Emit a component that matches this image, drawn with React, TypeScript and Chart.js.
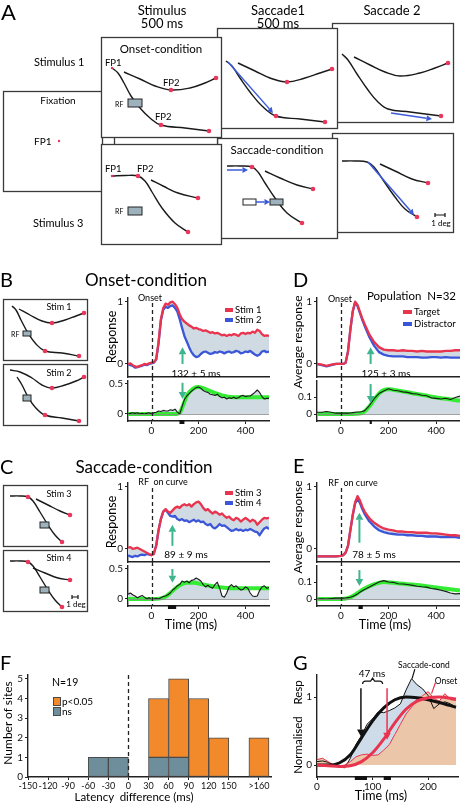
import React, { useEffect, useMemo, useRef } from "react";
import { Chart, registerables } from "chart.js";

Chart.register(...registerables);

const FONT = 'Lato, "Noto Sans", "DejaVu Sans", sans-serif';
Chart.defaults.font.family = FONT;
Chart.defaults.color = "#111";

// ================= DATA =================
// time base (ms) for single-site traces (B, C)
const tSite = [-100, -90, -80, -70, -60, -50, -40, -30, -20, -10, 0, 10, 20, 30, 40, 50, 60, 70, 80, 90, 100, 110, 120, 130, 140, 150, 160, 170, 180, 190, 200, 210, 220, 230, 240, 250, 260, 270, 280, 290, 300, 310, 320, 330, 340, 350, 360, 370, 380, 390, 400, 410, 420, 430, 440, 450, 460, 470, 480, 490, 500];

// Panel B — onset condition, one site
const bStim1 = [0.0, 0.01, -0.02, -0.04, -0.05, -0.03, -0.02, 0.0, -0.01, 0.01,
  0.02, 0.03, 0.08, 0.35, 0.72, 0.9, 0.97, 0.95, 0.99, 1.0,
  0.96, 0.9, 0.8, 0.72, 0.68, 0.65, 0.62, 0.6, 0.57, 0.58,
  0.56, 0.55, 0.53, 0.54, 0.52, 0.5, 0.51, 0.49, 0.5, 0.48,
  0.46, 0.47, 0.45, 0.47, 0.46, 0.48, 0.47, 0.45, 0.49, 0.5,
  0.48, 0.5, 0.49, 0.52, 0.5, 0.55, 0.53, 0.48, 0.45, 0.46,
  0.45];
const bStim2 = [0.0, -0.02, -0.03, -0.06, -0.05, -0.04, -0.03, -0.01, -0.02, 0.0,
  0.01, 0.02, 0.07, 0.33, 0.7, 0.87, 0.92, 0.9, 0.93, 0.94,
  0.9, 0.84, 0.72, 0.58, 0.45, 0.36, 0.27, 0.19, 0.14, 0.11,
  0.12, 0.16, 0.19, 0.2, 0.18, 0.16, 0.17, 0.19, 0.18, 0.2,
  0.19, 0.17, 0.19, 0.2, 0.18, 0.19, 0.21, 0.2, 0.17, 0.18,
  0.2, 0.19, 0.21, 0.18, 0.15, 0.13, 0.15, 0.2, 0.21, 0.19,
  0.2];
const bDiff = [0.0, 0.01, 0.02, 0.01, 0.02, 0.0, 0.01, 0.0, 0.01, 0.02,
  0.0, 0.02, 0.03, 0.05, 0.04, 0.06, 0.05, 0.05, 0.07, 0.06,
  0.08, 0.03, 0.0, 0.12, 0.24, 0.3, 0.34, 0.38, 0.41, 0.44,
  0.45, 0.43, 0.39, 0.37, 0.36, 0.33, 0.32, 0.31, 0.33, 0.29,
  0.27, 0.28, 0.25, 0.27, 0.26, 0.28, 0.26, 0.27, 0.3, 0.31,
  0.29, 0.3, 0.3, 0.33, 0.36, 0.4, 0.36, 0.29, 0.25, 0.26,
  0.26];
const bFitT = [-100, -50, 0, 50, 100, 110, 120, 130, 140, 150, 160, 180, 200, 220, 250, 300, 350, 400, 450, 500];
const bFit = [0, 0, 0, 0, 0, 0.005, 0.02, 0.1, 0.2, 0.3, 0.36, 0.43, 0.45, 0.43, 0.38, 0.31, 0.28, 0.28, 0.28, 0.28];

// Panel C — saccade condition, one site
const cStim3 = [0.02, 0.03, 0.0, 0.01, 0.02, 0.0, -0.02, -0.04, -0.06, -0.08,
  -0.1, -0.08, 0.05, 0.3, 0.48, 0.6, 0.64, 0.6, 0.58, 0.62,
  0.66, 0.68, 0.66, 0.7, 0.72, 0.7, 0.72, 0.68, 0.72, 0.75,
  0.76, 0.72, 0.66, 0.62, 0.64, 0.6, 0.57, 0.6, 0.58, 0.55,
  0.57, 0.53, 0.5, 0.52, 0.48, 0.46, 0.5, 0.48, 0.44, 0.47,
  0.5, 0.47, 0.44, 0.47, 0.45, 0.39, 0.43, 0.47, 0.5, 0.49,
  0.5];
const cStim4 = [-0.1, -0.12, -0.13, -0.11, -0.12, -0.1, -0.09, -0.1, -0.08, -0.09,
  -0.1, -0.07, 0.06, 0.3, 0.48, 0.6, 0.63, 0.58, 0.53, 0.52,
  0.53, 0.48, 0.46, 0.48, 0.45, 0.46, 0.43, 0.45, 0.47, 0.44,
  0.46, 0.43, 0.44, 0.4, 0.38, 0.4, 0.35, 0.33, 0.36, 0.4,
  0.37, 0.38, 0.35, 0.32, 0.29, 0.3, 0.32, 0.3, 0.31, 0.29,
  0.31, 0.3, 0.32, 0.3, 0.28, 0.27, 0.22, 0.28, 0.33, 0.35,
  0.32];
const cDiff = [0.08, 0.1, 0.07, 0.05, 0.02, 0.04, 0.06, 0.03, 0.0, 0.02,
  -0.01, 0.0, 0.01, 0.0, 0.02, 0.04, 0.05, 0.07, 0.1, 0.15,
  0.18, 0.22, 0.24, 0.3, 0.28, 0.3, 0.27, 0.31, 0.32, 0.35,
  0.33, 0.3, 0.24, 0.2, 0.23, 0.2, 0.18, 0.24, 0.28, 0.18,
  0.05, 0.03, 0.1, 0.2, 0.24, 0.2, 0.22, 0.18, 0.15, 0.16,
  0.2, 0.18, 0.1, 0.05, 0.04, 0.05, 0.14, 0.2, 0.22, 0.18,
  0.19];
const cFitT = [-100, 0, 40, 60, 80, 100, 120, 150, 180, 220, 280, 350, 420, 500];
const cFit = [0, 0, 0.01, 0.04, 0.1, 0.17, 0.23, 0.27, 0.27, 0.24, 0.2, 0.18, 0.18, 0.18];

// time base (ms) for population averages (D, E)
const tPop = [-100, -80, -60, -40, -20, 0, 10, 20, 30, 40, 50, 60, 70, 80, 90, 100, 120, 140, 160, 180, 200, 220, 240, 260, 280, 300, 320, 340, 360, 380, 400, 420, 440, 460, 480, 500];

// Panel D — population, onset condition
const dTarget = [0.0, -0.01, -0.03, -0.01, 0.0, 0.0,
  0.0, 0.02, 0.2, 0.55, 0.85, 1.0, 0.95, 0.84, 0.73, 0.64,
  0.47, 0.35, 0.27, 0.23, 0.22, 0.22, 0.21, 0.22, 0.21, 0.21, 0.2, 0.21, 0.2, 0.2, 0.2, 0.2, 0.21, 0.21, 0.22, 0.22];
const dDistractor = [0.0, -0.02, -0.04, -0.02, 0.0, 0.0,
  0.0, 0.02, 0.2, 0.55, 0.84, 0.99, 0.93, 0.82, 0.71, 0.61,
  0.43, 0.29, 0.19, 0.15, 0.13, 0.12, 0.12, 0.12, 0.11, 0.11, 0.11, 0.1, 0.1, 0.11, 0.11, 0.1, 0.11, 0.1, 0.1, 0.1];
const dDiff = [0.01, 0.01, 0.015, 0.01, 0.005, 0.005,
  0.005, 0.005, 0.005, 0.006, 0.008, 0.01, 0.012, 0.012, 0.015, 0.02,
  0.05, 0.09, 0.12, 0.135, 0.148, 0.14, 0.137, 0.13, 0.127, 0.12, 0.118, 0.11, 0.107, 0.095, 0.092, 0.088, 0.093, 0.085, 0.097, 0.105];
const dFitT = [-100, 0, 80, 100, 120, 140, 160, 180, 200, 250, 300, 350, 400, 450, 500];
const dFit = [0, 0, 0.003, 0.015, 0.045, 0.085, 0.12, 0.14, 0.145, 0.135, 0.122, 0.11, 0.097, 0.088, 0.078];

// Panel E — population, saccade condition
const eTarget = [-0.12, -0.12, -0.12, -0.12, -0.12, -0.11,
  -0.1, -0.06, 0.05, 0.3, 0.55, 0.75, 0.85, 0.78, 0.68, 0.6,
  0.49, 0.42, 0.37, 0.33, 0.31, 0.3, 0.28, 0.28, 0.27, 0.27, 0.26, 0.26, 0.26, 0.25, 0.25, 0.24, 0.23, 0.22, 0.22, 0.21];
const eDistractor = [-0.12, -0.12, -0.12, -0.12, -0.12, -0.11,
  -0.1, -0.06, 0.05, 0.3, 0.54, 0.73, 0.81, 0.74, 0.64, 0.56,
  0.44, 0.36, 0.3, 0.27, 0.25, 0.24, 0.23, 0.23, 0.22, 0.22, 0.21, 0.21, 0.2, 0.2, 0.2, 0.19, 0.19, 0.19, 0.19, 0.18];
const eDiff = [0.0, 0.002, 0.0, 0.003, 0.005, 0.005,
  0.005, 0.006, 0.008, 0.01, 0.015, 0.022, 0.03, 0.04, 0.048, 0.056,
  0.07, 0.085, 0.1, 0.108, 0.1, 0.098, 0.09, 0.088, 0.085, 0.08, 0.075, 0.072, 0.07, 0.062, 0.058, 0.052, 0.045, 0.035, 0.03, 0.032];
const eFitT = [-100, 0, 30, 60, 80, 100, 130, 160, 180, 220, 300, 400, 500];
const eFit = [0, 0, 0.005, 0.025, 0.045, 0.062, 0.082, 0.095, 0.1, 0.095, 0.085, 0.068, 0.05];

// Panel F — latency differences histogram
const fBinCenters = [-45, -15, 45, 75, 105, 135, 195];
const fNsCounts = [1, 1, 1, 1, null, null, null];
const fSigCounts = [null, null, 3, 4, 4, 2, 2];
const fTicks = [-150, -120, -90, -60, -30, 0, 30, 60, 90, 120, 150, 195];

// Panel G — normalised responses of one site
const tG = [0, 10, 20, 30, 40, 50, 60, 70, 80, 90, 100, 110, 120, 130, 140, 150, 160, 170, 180, 190, 200, 210, 220, 230, 240, 250];
const gSaccade = [0.05, 0.06, 0.04, 0.0, -0.03, -0.04, 0.1, 0.3, 0.43, 0.6, 0.68, 0.78, 0.77, 0.8, 0.84, 0.9, 1.1, 1.27, 1.18, 1.12, 1.02, 0.83, 0.9, 0.93, 0.9, 0.85];
const gOnset = [0.08, 0.1, 0.05, 0.0, -0.02, 0.0, 0.05, 0.12, 0.15, 0.16, 0.14, 0.15, 0.22, 0.3, 0.45, 0.6, 0.75, 0.85, 0.97, 1.02, 1.08, 0.98, 0.94, 1.05, 0.96, 0.95];
const gFitT = [0, 20, 40, 60, 80, 100, 120, 140, 160, 180, 200, 220, 250];
const gSaccadeFit = [0, 0, 0.03, 0.15, 0.4, 0.65, 0.84, 0.96, 1.0, 0.99, 0.96, 0.92, 0.85];
const gOnsetFit = [0, -0.01, -0.02, -0.01, 0.05, 0.18, 0.38, 0.62, 0.82, 0.94, 0.99, 1.0, 0.97];

// latencies (ms)
const latB = 132, latC = 89, latD = 125, latE = 78, latGsac = 79, latGons = 126;

// Schematic stimuli (panel A and thumbnails), in figure units
const schemCurves: number[][][] = [
  [[124, 72], [140, 79], [155, 86], [171, 90], [190, 88], [205, 83], [216, 78]],
  [[112, 68], [118, 73], [124, 83], [131, 96], [140, 108], [150, 118], [161, 125], [185, 128], [209, 131]],
  [[238, 63], [255, 71], [270, 78], [287, 82], [305, 78], [320, 73], [332, 69]],
  [[226, 61], [232, 66], [240, 78], [250, 92], [262, 106], [276, 116], [300, 119], [325, 122]],
  [[354, 57], [370, 65], [385, 72], [400, 76], [420, 73], [435, 68], [448, 63]],
  [[342, 54], [348, 60], [357, 74], [368, 90], [378, 102], [388, 109], [410, 112], [441, 116]],
  [[112, 176], [125, 175.5], [138, 176], [145, 181], [152, 192], [162, 208], [175, 223], [188, 232]],
  [[151, 180], [163, 186], [178, 193], [198, 198]],
  [[227, 166], [240, 166], [252, 167], [258, 172], [265, 183], [275, 198], [287, 213], [302, 223]],
  [[265, 171], [280, 178], [297, 185], [313, 189]],
  [[342, 161], [355, 161], [367, 162], [374, 167], [383, 180], [395, 197], [405, 209], [417, 217]],
  [[380, 164], [395, 171], [412, 179], [428, 183]],
  [[19, 309], [30, 315], [42, 321], [52, 323], [65, 320], [76, 316], [84, 313]],
  [[12, 306], [16, 310], [21, 320], [28, 333], [36, 344], [45, 351], [62, 353], [79, 356]],
  [[10, 370], [20, 372], [32, 378], [42, 385], [52, 388], [65, 385], [76, 381], [84, 377]],
  [[17, 377], [22, 385], [28, 397], [35, 407], [45, 415], [62, 418], [79, 421]],
  [[10, 496], [20, 496], [28, 497], [33, 501], [40, 512], [48, 525], [55, 535], [62, 542]],
  [[36, 499], [48, 505], [60, 511], [70, 515]],
  [[10, 561], [20, 561], [28, 562], [33, 566], [40, 577], [48, 590], [55, 600], [62, 607]],
  [[33, 568], [45, 573], [58, 578], [70, 580]],
];
const schemDots = [[171, 90], [216, 78], [161, 125], [209, 131], [287, 82], [332, 69], [276, 116], [325, 122],
  [448, 63], [441, 116], [138, 176], [188, 232], [198, 198], [252, 167], [302, 223], [313, 189], [417, 217], [428, 183],
  [52, 323], [84, 313], [45, 351], [79, 356], [52, 388], [84, 377], [45, 415], [79, 421],
  [28, 497], [62, 542], [70, 515], [28, 562], [62, 607], [70, 580]];
const schemSmallDots = [[59, 141], [112, 68], [112, 176]];
const schemBoxes = [[332, 23, 453, 122], [332, 133, 453, 232], [217, 28, 337, 128], [217, 138, 337, 238],
  [114, 125, 217, 155], [3, 91, 102, 191], [101, 37, 221, 137], [101, 144, 221, 244],
  [3, 299, 87, 360], [3, 364, 87, 425], [3, 485, 87, 546], [3, 550, 87, 611]];
const schemRF = [[128, 99, 142, 107], [128, 207, 142, 215], [270, 199, 283, 205], [23, 331, 31, 336],
  [23, 395, 31, 401], [40, 522, 49, 528], [40, 587, 49, 593]];
const schemWhiteRF = [[243, 199, 256, 205]];
const schemArrows = [[228, 62, 273, 113], [391, 113, 432, 119], [227, 170, 248, 170], [256, 202, 270, 202], [368, 162, 414, 215]];
const schemScaleBars = [[435, 445, 215], [72, 78, 597]];

// ================= STYLE =================
const RED = "#e8344e";
const BLUE = "#3c56d8";
const GREEN = "#35ec35";
const TEAL = "#3db58e";
const FILL = "#cfdae3";
const ORANGE = "#f28a2c";
const SLATE = "#6f8e9b";
const PEACH = "#ebc6a9";
const BLUEFILL = "#cddce8";
const DOT = "#e8365c";
const RFFILL = "#9db2bc";
const ARROWBLUE = "#3b5bdb";
const INK = "#1a1a1a";

const xy = (xs: number[], ys: (number | null)[]) => xs.map((x, i) => ({ x, y: ys[i] }));

function drawArrow(ctx: CanvasRenderingContext2D, x1: number, y1: number, x2: number, y2: number, color: string, width = 1.6, head = 6) {
  const ang = Math.atan2(y2 - y1, x2 - x1);
  const hw = head * 0.55;
  const bx = x2 - Math.cos(ang) * head;
  const by = y2 - Math.sin(ang) * head;
  ctx.save();
  ctx.strokeStyle = color;
  ctx.fillStyle = color;
  ctx.lineWidth = width;
  ctx.beginPath();
  ctx.moveTo(x1, y1);
  ctx.lineTo(bx, by);
  ctx.stroke();
  ctx.beginPath();
  ctx.moveTo(x2, y2);
  ctx.lineTo(bx + Math.sin(ang) * hw, by - Math.cos(ang) * hw);
  ctx.lineTo(bx - Math.sin(ang) * hw, by + Math.cos(ang) * hw);
  ctx.closePath();
  ctx.fill();
  ctx.restore();
}

type Arrow = { x1: number; y1: number; x2: number; y2: number; color: string; width?: number; head?: number };
type Decor = { vline?: number; vTopExt?: number; vBotExt?: number; zero?: boolean; arrows?: Arrow[]; bars?: number[][]; extra?: (c: any) => void };

function decor(d: Decor) {
  return {
    id: "decor",
    afterDatasetsDraw(chart: any) {
      const { ctx, chartArea: a, scales } = chart;
      const X = scales.x, Y = scales.y;
      if (d.zero) {
        const py = Math.round(Y.getPixelForValue(0)) + 0.5;
        ctx.save();
        ctx.strokeStyle = "#8a8a8a";
        ctx.lineWidth = 0.8;
        ctx.beginPath();
        ctx.moveTo(a.left, py);
        ctx.lineTo(a.right, py);
        ctx.stroke();
        ctx.restore();
      }
      if (d.vline !== undefined) {
        const px = Math.round(X.getPixelForValue(d.vline)) + 0.5;
        ctx.save();
        ctx.setLineDash([4, 3]);
        ctx.strokeStyle = "#222";
        ctx.lineWidth = 1.3;
        ctx.beginPath();
        ctx.moveTo(px, a.top - (d.vTopExt || 0));
        ctx.lineTo(px, a.bottom + (d.vBotExt || 0));
        ctx.stroke();
        ctx.restore();
      }
      (d.arrows || []).forEach((r) =>
        drawArrow(ctx, X.getPixelForValue(r.x1), Y.getPixelForValue(r.y1), X.getPixelForValue(r.x2), Y.getPixelForValue(r.y2), r.color, r.width, r.head)
      );
      (d.bars || []).forEach(([s, e]) => {
        const p1 = X.getPixelForValue(s), p2 = X.getPixelForValue(e);
        ctx.save();
        ctx.fillStyle = "#111";
        ctx.fillRect(p1, a.bottom - 1, p2 - p1, 4);
        ctx.restore();
      });
      if (d.extra) d.extra(chart);
    },
  };
}

type Rect = { L: number; R: number; T: number; B: number };

function buildChart(p: {
  area: Rect; yw: number; xh: number;
  x: number[]; y: number[];
  xTicks: number[]; yTicks: number[]; xShow: boolean;
  datasets: any[]; decor: Decor; type?: string; xFmt?: (v: number) => string; xFont?: number;
}) {
  const pad = 8;
  const rect = {
    left: p.area.L - p.yw - pad,
    top: p.area.T - pad,
    width: p.area.R - p.area.L + p.yw + 2 * pad,
    height: p.area.B - p.area.T + p.xh + 2 * pad,
  };
  const isBar = p.type === "bar";
  const xTickOpts: any = { display: p.xShow, autoSkip: false, maxRotation: 0, padding: 1, color: "#111", font: { size: p.xFont || 10, family: FONT } };
  if (p.xFmt) xTickOpts.callback = p.xFmt;
  const config: any = {
    type: p.type || "line",
    data: { datasets: p.datasets },
    options: {
      responsive: false,
      animation: false,
      events: [],
      layout: { padding: pad, autoPadding: false },
      plugins: { legend: { display: false }, tooltip: { enabled: false }, filler: { drawTime: "beforeDatasetsDraw" } },
      elements: { point: { radius: 0 }, line: { borderJoinStyle: "round" } },
      scales: {
        x: {
          type: "linear", min: p.x[0], max: p.x[1], offset: false, stacked: isBar,
          afterFit: (s: any) => { s.height = p.xh; },
          afterBuildTicks: (s: any) => { s.ticks = p.xTicks.map((v) => ({ value: v })); },
          ticks: xTickOpts,
          grid: { display: p.xShow, drawOnChartArea: false, drawTicks: true, tickLength: 3, color: "#222", offset: false },
          border: { display: true, color: "#222", width: 1.4 },
        },
        y: {
          type: "linear", min: p.y[0], max: p.y[1], stacked: isBar,
          afterFit: (s: any) => { s.width = p.yw; },
          afterBuildTicks: (s: any) => { s.ticks = p.yTicks.map((v) => ({ value: v })); },
          ticks: { autoSkip: false, padding: 2, color: "#111", font: { size: 10, family: FONT } },
          grid: { drawOnChartArea: false, drawTicks: true, tickLength: 3, color: "#222" },
          border: { display: true, color: "#222", width: 1.4 },
        },
      },
    },
    plugins: [decor(p.decor)],
  };
  return { rect, config };
}

function respSets(t: number[], a: number[], b: number[]) {
  return [
    { data: xy(t, a), borderColor: RED, borderWidth: 2.3, pointRadius: 0, fill: false },
    { data: xy(t, b), borderColor: BLUE, borderWidth: 2.3, pointRadius: 0, fill: "-1", backgroundColor: FILL },
  ];
}
function diffSets(t: number[], d: number[], ft: number[], f: number[]) {
  return [
    { data: xy(t, d), borderColor: INK, borderWidth: 1.1, pointRadius: 0, fill: { value: 0 }, backgroundColor: FILL },
    { data: xy(ft, f), borderColor: GREEN, borderWidth: 4, pointRadius: 0, fill: false, cubicInterpolationMode: "monotone" },
  ];
}

const TIME = [-100, 500];
const TT = [0, 200, 400];
const RESP_Y = [-0.21, 1.06];

function siteMain(T: number, a: number[], b: number[], lat: number, y1: number, y2: number) {
  return buildChart({
    area: { L: 128, R: 269, T, B: T + 79 }, yw: 20, xh: 0, x: TIME, y: RESP_Y, xTicks: TT, yTicks: [0, 1], xShow: false,
    datasets: respSets(tSite, a, b),
    decor: { vline: 0, vTopExt: -5, vBotExt: 4, arrows: [{ x1: lat, y1, x2: lat, y2, color: TEAL, width: 2, head: 7 }] },
  });
}
function siteDiff(T: number, d: number[], ft: number[], f: number[], lat: number, bar: number[], y1: number, y2: number) {
  return buildChart({
    area: { L: 128, R: 269, T, B: T + 40 }, yw: 20, xh: 16, x: TIME, y: [-0.117, 0.55], xTicks: TT, yTicks: [0, 0.5], xShow: true,
    datasets: diffSets(tSite, d, ft, f),
    decor: { zero: true, vline: 0, vTopExt: 4, arrows: [{ x1: lat, y1, x2: lat, y2, color: TEAL, width: 2, head: 7 }], bars: [bar] },
  });
}
function popMain(T: number, a: number[], b: number[], lat: number, y1: number, y2: number) {
  return buildChart({
    area: { L: 317, R: 460, T, B: T + 79 }, yw: 20, xh: 0, x: TIME, y: RESP_Y, xTicks: TT, yTicks: [0, 1], xShow: false,
    datasets: respSets(tPop, a, b),
    decor: { vline: 0, vTopExt: -5, vBotExt: 4, arrows: [{ x1: lat, y1, x2: lat, y2, color: TEAL, width: 2, head: 7 }] },
  });
}
function popDiff(T: number, d: number[], ft: number[], f: number[], lat: number, bar: number[], y1: number, y2: number) {
  return buildChart({
    area: { L: 317, R: 460, T, B: T + 40 }, yw: 20, xh: 16, x: TIME, y: [-0.041, 0.194], xTicks: TT, yTicks: [0, 0.1], xShow: true,
    datasets: diffSets(tPop, d, ft, f),
    decor: { zero: true, vline: 0, vTopExt: 4, arrows: [{ x1: lat, y1, x2: lat, y2, color: TEAL, width: 2, head: 7 }], bars: [bar] },
  });
}

function histF() {
  const barStyle = { borderColor: "#4a4a4a", borderWidth: 1, borderSkipped: false, barPercentage: 1, categoryPercentage: 1 };
  return buildChart({
    type: "bar",
    area: { L: 28, R: 271, T: 675, B: 777 }, yw: 12, xh: 14, x: [-150, 213], y: [0, 5.2],
    xTicks: fTicks, yTicks: [0, 1, 2, 3, 4, 5], xShow: true, xFont: 9,
    xFmt: (v: number) => (v === 195 ? ">160" : String(v)),
    datasets: [
      { label: "ns", data: xy(fBinCenters, fNsCounts), backgroundColor: SLATE, ...barStyle },
      { label: "p<0.05", data: xy(fBinCenters, fSigCounts), backgroundColor: ORANGE, ...barStyle },
    ],
    decor: { vline: 0 },
  });
}

function panelG() {
  return buildChart({
    area: { L: 317, R: 458, T: 675, B: 777 }, yw: 14, xh: 16, x: [0, 253.6], y: [-0.176, 1.324],
    xTicks: [0, 100, 200], yTicks: [0, 1], xShow: true,
    datasets: [
      { data: xy(gFitT, gOnsetFit), borderColor: RED, borderWidth: 3, pointRadius: 0, fill: false, cubicInterpolationMode: "monotone" },
      { data: xy(gFitT, gSaccadeFit), borderColor: "#111", borderWidth: 3, pointRadius: 0, fill: false, cubicInterpolationMode: "monotone" },
      { data: xy(tG, gOnset), borderColor: RED, borderWidth: 1, pointRadius: 0, fill: "origin", backgroundColor: PEACH },
      { data: xy(tG, gSaccade), borderColor: "#111", borderWidth: 1, pointRadius: 0, fill: { target: 2, above: BLUEFILL, below: "rgba(0,0,0,0)" } },
    ],
    decor: {
      arrows: [
        { x1: latGsac, y1: 1.13, x2: latGsac, y2: 0.42, color: "#111", width: 1.5, head: 7 },
        { x1: latGons, y1: 1.13, x2: latGons, y2: 0.37, color: RED, width: 1.5, head: 7 },
      ],
      bars: [[68, 90], [120, 133]],
      extra: (chart: any) => {
        const { ctx, scales } = chart;
        const X = scales.x, Y = scales.y;
        const x1 = X.getPixelForValue(82), x2 = X.getPixelForValue(118), yb = Y.getPixelForValue(1.22);
        const xm = (x1 + x2) / 2;
        ctx.save();
        ctx.strokeStyle = "#111";
        ctx.lineWidth = 1.2;
        ctx.beginPath();
        ctx.moveTo(x1, yb + 2);
        ctx.quadraticCurveTo(x1, yb - 1, x1 + 3, yb - 1);
        ctx.lineTo(xm - 2, yb - 1);
        ctx.lineTo(xm, yb - 4);
        ctx.lineTo(xm + 2, yb - 1);
        ctx.lineTo(x2 - 3, yb - 1);
        ctx.quadraticCurveTo(x2, yb - 1, x2, yb + 2);
        ctx.stroke();
        ctx.beginPath();
        ctx.moveTo(X.getPixelForValue(171), Y.getPixelForValue(1.27));
        ctx.lineTo(X.getPixelForValue(176), Y.getPixelForValue(1.41));
        ctx.stroke();
        ctx.strokeStyle = RED;
        ctx.beginPath();
        ctx.moveTo(X.getPixelForValue(206), Y.getPixelForValue(1.05));
        ctx.lineTo(X.getPixelForValue(213), Y.getPixelForValue(1.21));
        ctx.stroke();
        ctx.restore();
      },
    },
  });
}

function schematic() {
  const plug = {
    id: "schem",
    beforeDatasetsDraw(chart: any) {
      const { ctx, scales } = chart;
      const X = scales.x, Y = scales.y;
      ctx.save();
      schemBoxes.forEach(([x1, y1, x2, y2]) => {
        const a = Math.round(X.getPixelForValue(x1)) + 0.5, b = Math.round(Y.getPixelForValue(y1)) + 0.5;
        const c = Math.round(X.getPixelForValue(x2)) + 0.5, d = Math.round(Y.getPixelForValue(y2)) + 0.5;
        ctx.fillStyle = "#fff";
        ctx.fillRect(a, b, c - a, d - b);
        ctx.strokeStyle = "#3a3a3a";
        ctx.lineWidth = 1.3;
        ctx.strokeRect(a, b, c - a, d - b);
      });
      ctx.restore();
    },
    afterDatasetsDraw(chart: any) {
      const { ctx, scales } = chart;
      const X = scales.x, Y = scales.y;
      ctx.save();
      const rect = (r: number[], fill: string) => {
        const a = X.getPixelForValue(r[0]), b = Y.getPixelForValue(r[1]);
        const c = X.getPixelForValue(r[2]), d = Y.getPixelForValue(r[3]);
        ctx.fillStyle = fill;
        ctx.fillRect(a, b, c - a, d - b);
        ctx.strokeStyle = "#222";
        ctx.lineWidth = 1;
        ctx.strokeRect(a, b, c - a, d - b);
      };
      schemRF.forEach((r) => rect(r, RFFILL));
      schemWhiteRF.forEach((r) => rect(r, "#fff"));
      schemArrows.forEach(([x1, y1, x2, y2]) =>
        drawArrow(ctx, X.getPixelForValue(x1), Y.getPixelForValue(y1), X.getPixelForValue(x2), Y.getPixelForValue(y2), ARROWBLUE, 1.5, 5.5)
      );
      ctx.strokeStyle = "#111";
      ctx.lineWidth = 1.2;
      schemScaleBars.forEach(([x1, x2, y]) => {
        const a = X.getPixelForValue(x1), b = X.getPixelForValue(x2), c = Y.getPixelForValue(y);
        ctx.beginPath();
        ctx.moveTo(a, c); ctx.lineTo(b, c);
        ctx.moveTo(a, c - 2); ctx.lineTo(a, c + 2);
        ctx.moveTo(b, c - 2); ctx.lineTo(b, c + 2);
        ctx.stroke();
      });
      ctx.restore();
    },
  };
  const pts = (l: number[][]) => l.map(([x, y]) => ({ x, y }));
  const config: any = {
    type: "line",
    data: {
      datasets: [
        { type: "scatter", data: pts(schemDots), pointRadius: 2.3, backgroundColor: DOT, borderWidth: 0, showLine: false },
        { type: "scatter", data: pts(schemSmallDots), pointRadius: 1.2, backgroundColor: DOT, borderWidth: 0, showLine: false },
        ...schemCurves.map((c) => ({ data: pts(c), borderColor: INK, borderWidth: 1.4, tension: 0.4, pointRadius: 0, fill: false })),
      ],
    },
    options: {
      responsive: false,
      animation: false,
      events: [],
      layout: { padding: 0, autoPadding: false },
      plugins: { legend: { display: false }, tooltip: { enabled: false } },
      scales: {
        x: { type: "linear", min: 0, max: 460, display: false },
        y: { type: "linear", min: 0, max: 804, reverse: true, display: false },
      },
    },
    plugins: [plug],
  };
  return { rect: { left: 0, top: 0, width: 460, height: 804 }, config };
}

function ChartCanvas({ build }: { build: () => { rect: any; config: any } }) {
  const ref = useRef<HTMLCanvasElement | null>(null);
  const built = useMemo(build, []);
  useEffect(() => {
    const c = new Chart(ref.current as HTMLCanvasElement, built.config);
    return () => c.destroy();
  }, [built]);
  const r = built.rect;
  return (
    <canvas ref={ref} width={r.width} height={r.height}
      style={{ position: "absolute", left: r.left, top: r.top, width: r.width, height: r.height }} />
  );
}

type Lbl = { t: string; x: number; y: number; s: number; a?: "l" | "c"; rot?: boolean };
const labels: Lbl[] = [
  { t: "A", x: 1, y: 12, s: 22, a: "l" },
  { t: "Stimulus", x: 162, y: 10, s: 13 },
  { t: "500 ms", x: 162, y: 23, s: 13 },
  { t: "Saccade1", x: 278, y: 10, s: 13 },
  { t: "500 ms", x: 278, y: 23, s: 13 },
  { t: "Saccade 2", x: 392, y: 10, s: 13 },
  { t: "Stimulus 1", x: 34, y: 61, s: 11, a: "l" },
  { t: "Stimulus 3", x: 33, y: 222, s: 11, a: "l" },
  { t: "Fixation", x: 58, y: 100, s: 10 },
  { t: "FP1", x: 34, y: 141, s: 10, a: "l" },
  { t: "Onset-condition", x: 161, y: 49, s: 11.5 },
  { t: "FP1", x: 105, y: 63, s: 9.5, a: "l" },
  { t: "FP2", x: 163, y: 83, s: 9.5, a: "l" },
  { t: "FP2", x: 155, y: 117, s: 9.5, a: "l" },
  { t: "RF", x: 115, y: 104, s: 7, a: "l" },
  { t: "FP1", x: 105, y: 169, s: 9.5, a: "l" },
  { t: "FP2", x: 137, y: 169, s: 9.5, a: "l" },
  { t: "RF", x: 115, y: 211, s: 7, a: "l" },
  { t: "Saccade-condition", x: 277, y: 150, s: 11.5 },
  { t: "1 deg", x: 441, y: 223, s: 8 },
  { t: "B", x: 0, y: 279, s: 20, a: "l" },
  { t: "Onset-condition", x: 146, y: 279, s: 17 },
  { t: "Stim 1", x: 59, y: 306, s: 9 },
  { t: "RF", x: 11, y: 334, s: 7, a: "l" },
  { t: "Stim 2", x: 59, y: 372, s: 9 },
  { t: "Onset", x: 150, y: 297, s: 9 },
  { t: "Response", x: 112, y: 337, s: 12.5, rot: true },
  { t: "Stim 1", x: 235, y: 310, s: 9.5, a: "l" },
  { t: "Stim 2", x: 235, y: 320, s: 9.5, a: "l" },
  { t: "132 ± 5 ms", x: 196, y: 373, s: 10 },
  { t: "D", x: 293, y: 279, s: 20, a: "l" },
  { t: "Onset", x: 340, y: 298, s: 9 },
  { t: "Population  N=32", x: 367, y: 296, s: 11.5, a: "l" },
  { t: "Average response", x: 298, y: 342, s: 12, rot: true },
  { t: "Target", x: 414, y: 312, s: 9.5, a: "l" },
  { t: "Distractor", x: 414, y: 324, s: 9.5, a: "l" },
  { t: "125 ± 3 ms", x: 386, y: 373, s: 10 },
  { t: "C", x: 0, y: 466, s: 20, a: "l" },
  { t: "Saccade-condition", x: 144, y: 466, s: 17 },
  { t: "RF  on curve", x: 163, y: 481, s: 9 },
  { t: "Stim 3", x: 59, y: 493, s: 9 },
  { t: "Stim 4", x: 59, y: 557, s: 9 },
  { t: "1 deg", x: 76, y: 604, s: 8 },
  { t: "Response", x: 112, y: 522, s: 12.5, rot: true },
  { t: "Stim 3", x: 235, y: 493, s: 9.5, a: "l" },
  { t: "Stim 4", x: 235, y: 503, s: 9.5, a: "l" },
  { t: "89 ± 9 ms", x: 186, y: 554, s: 10 },
  { t: "Time (ms)", x: 191, y: 625, s: 12.5 },
  { t: "E", x: 293, y: 465, s: 20, a: "l" },
  { t: "RF  on curve", x: 353, y: 482, s: 9 },
  { t: "Average response", x: 298, y: 527, s: 12, rot: true },
  { t: "78 ± 5 ms", x: 374, y: 554, s: 10 },
  { t: "Time (ms)", x: 385, y: 625, s: 12.5 },
  { t: "F", x: 0, y: 662, s: 20, a: "l" },
  { t: "Number of sites", x: 8, y: 723, s: 12, rot: true },
  { t: "N=19", x: 52, y: 682, s: 10.5, a: "l" },
  { t: "p<0.05", x: 62, y: 701, s: 10, a: "l" },
  { t: "ns", x: 62, y: 711, s: 10, a: "l" },
  { t: "Latency  difference (ms)", x: 134, y: 797, s: 11.5 },
  { t: "G", x: 293, y: 662, s: 20, a: "l" },
  { t: "Normalised    Resp", x: 298, y: 727, s: 11.5, rot: true },
  { t: "Saccade-cond", x: 424, y: 665, s: 8.5 },
  { t: "Onset", x: 446, y: 681, s: 8.5 },
  { t: "47 ms", x: 372, y: 673, s: 10 },
  { t: "Time (ms)", x: 381, y: 796, s: 12.5 },
];

const swatches = [
  { x: 225, y: 308, w: 8, h: 4, c: RED }, { x: 225, y: 318, w: 8, h: 4, c: BLUE },
  { x: 225, y: 491, w: 8, h: 4, c: RED }, { x: 225, y: 501, w: 8, h: 4, c: BLUE },
  { x: 403, y: 310, w: 9, h: 4, c: RED }, { x: 403, y: 322, w: 9, h: 4, c: BLUE },
];
const boxSwatches = [{ x: 53, y: 697, c: ORANGE }, { x: 53, y: 707, c: SLATE }];

export default function App() {
  return (
    <div style={{ position: "absolute", left: 0, top: 0, width: 460, height: 804, background: "#fff", overflow: "hidden", fontFamily: FONT, color: "#000" }}>
      <ChartCanvas build={schematic} />
      <ChartCanvas build={() => siteMain(298, bStim1, bStim2, latB, 0.0, 0.27)} />
      <ChartCanvas build={() => siteDiff(381, bDiff, bFitT, bFit, latB, [119, 140], 0.52, 0.25)} />
      <ChartCanvas build={() => siteMain(483, cStim3, cStim4, latC, 0.05, 0.39)} />
      <ChartCanvas build={() => siteDiff(566, cDiff, cFitT, cFit, latC, [70, 105], 0.5, 0.27)} />
      <ChartCanvas build={() => popMain(298, dTarget, dDistractor, latD, 0.0, 0.27)} />
      <ChartCanvas build={() => popDiff(381, dDiff, dFitT, dFit, latD, [121, 130], 0.176, 0.065)} />
      <ChartCanvas build={() => popMain(483, eTarget, eDistractor, latE, 0.1, 0.58)} />
      <ChartCanvas build={() => popDiff(566, eDiff, eFitT, eFit, latE, [74, 92], 0.17, 0.076)} />
      <ChartCanvas build={histF} />
      <ChartCanvas build={panelG} />
      {swatches.map((s, i) => (
        <div key={"s" + i} style={{ position: "absolute", left: s.x, top: s.y, width: s.w, height: s.h, background: s.c }} />
      ))}
      {boxSwatches.map((s, i) => (
        <div key={"b" + i} style={{ position: "absolute", left: s.x, top: s.y, width: 6, height: 7, background: s.c, border: "1px solid #4a4a4a" }} />
      ))}
      {labels.map((l, i) => (
        <div key={i} style={{
          position: "absolute", left: l.x, top: l.y, fontSize: l.s, lineHeight: 1, whiteSpace: "pre",
          transform: l.rot ? "translate(-50%,-50%) rotate(-90deg)" : l.a === "l" ? "translate(0,-50%)" : "translate(-50%,-50%)",
        }}>{l.t}</div>
      ))}
    </div>
  );
}
